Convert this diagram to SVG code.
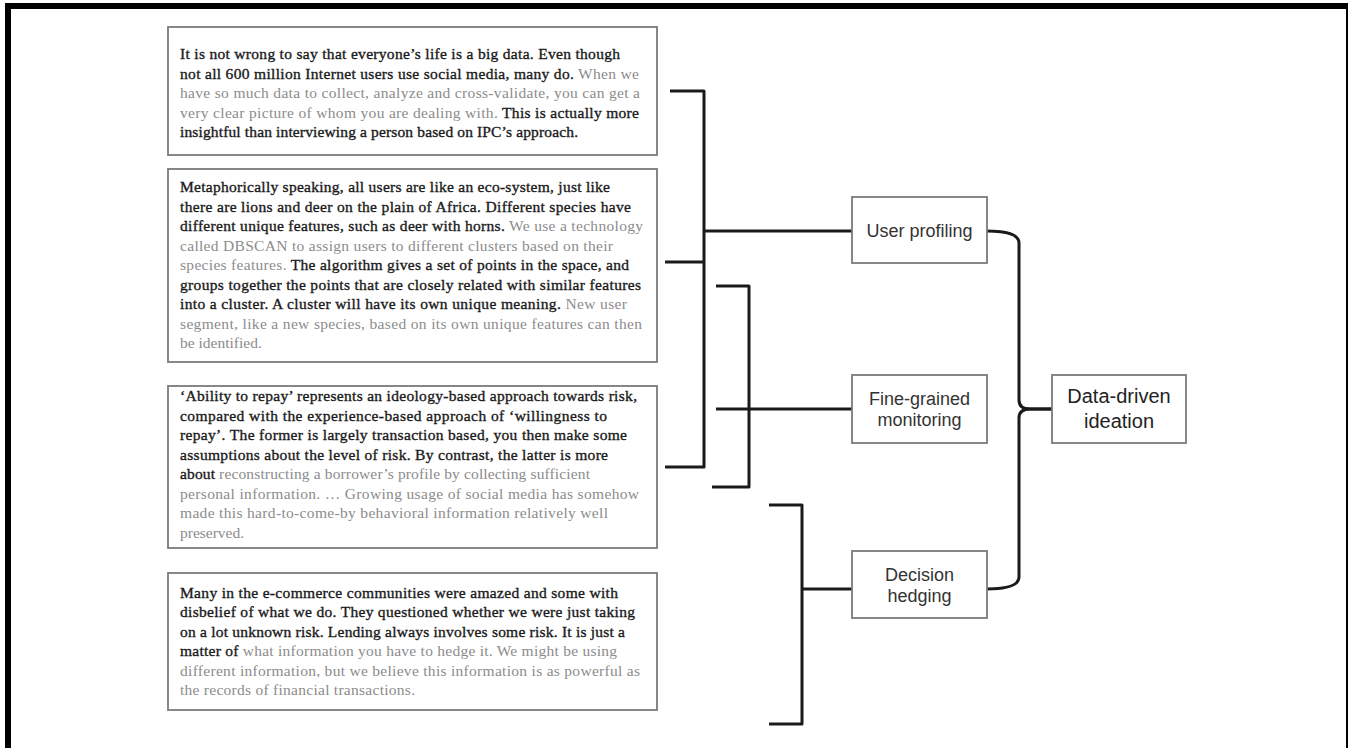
<svg xmlns="http://www.w3.org/2000/svg" width="1348" height="748" viewBox="0 0 1348 748">
<style>
.frame{fill:none;stroke:#000;stroke-width:6}
.qbox{fill:#fff;stroke:#7a7a7a;stroke-width:1.8}
.nbox{fill:#fff;stroke:#7a7a7a;stroke-width:1.8}
.q{font-family:"Liberation Serif","Times New Roman",serif;font-size:15.5px;fill:#1a1a1a;stroke:#1a1a1a;stroke-width:0.35}
.g{fill:#8c8c8c;stroke:none}
.k{fill:#1a1a1a;stroke:#1a1a1a;stroke-width:0.35}
.n{font-family:"Liberation Sans",Arial,sans-serif;font-size:18px;fill:#333;text-anchor:middle}
.big{font-size:20px;fill:#222}
.c{fill:none;stroke:#1a1a1a;stroke-width:3;stroke-linejoin:round}
</style>
<rect x="0" y="0" width="1348" height="748" fill="#fff"/>
<rect class="frame" x="8" y="6" width="1341" height="800"/>

<g id="quote1">
<rect class="qbox" x="168" y="27" width="489" height="128"/>
<text class="q" x="180" y="59" textLength="440" lengthAdjust="spacing">It is not wrong to say that everyone’s life is a big data. Even though</text>
<text class="q" x="180" y="78.5" textLength="459" lengthAdjust="spacing"><tspan class="k">not all 600 million Internet users use social media, many do. </tspan><tspan class="g">When we</tspan></text>
<text class="q g" x="180" y="98" textLength="460" lengthAdjust="spacing">have so much data to collect, analyze and cross-validate, you can get a</text>
<text class="q" x="180" y="117.5" textLength="459" lengthAdjust="spacing"><tspan class="g">very clear picture of whom you are dealing with. </tspan><tspan class="k">This is actually more</tspan></text>
<text class="q" x="180" y="137" textLength="398" lengthAdjust="spacing">insightful than interviewing a person based on IPC’s approach.</text>
</g>

<g id="quote2">
<rect class="qbox" x="168" y="169" width="489" height="193"/>
<text class="q" x="180" y="192" textLength="430" lengthAdjust="spacing">Metaphorically speaking, all users are like an eco-system, just like</text>
<text class="q" x="180" y="211.5" textLength="451" lengthAdjust="spacing">there are lions and deer on the plain of Africa. Different species have</text>
<text class="q" x="180" y="231" textLength="463" lengthAdjust="spacing"><tspan class="k">different unique features, such as deer with horns. </tspan><tspan class="g">We use a technology</tspan></text>
<text class="q g" x="180" y="250.5" textLength="433" lengthAdjust="spacing">called DBSCAN to assign users to different clusters based on their</text>
<text class="q" x="180" y="270" textLength="449" lengthAdjust="spacing"><tspan class="g">species features. </tspan><tspan class="k">The algorithm gives a set of points in the space, and</tspan></text>
<text class="q" x="180" y="289.5" textLength="461" lengthAdjust="spacing">groups together the points that are closely related with similar features</text>
<text class="q" x="180" y="309" textLength="447" lengthAdjust="spacing"><tspan class="k">into a cluster. A cluster will have its own unique meaning. </tspan><tspan class="g">New user</tspan></text>
<text class="q g" x="180" y="328.5" textLength="462" lengthAdjust="spacing">segment, like a new species, based on its own unique features can then</text>
<text class="q g" x="180" y="348">be identified.</text>
</g>

<g id="quote3">
<rect class="qbox" x="168" y="386" width="489" height="162"/>
<text class="q" x="180" y="401" textLength="457" lengthAdjust="spacing">‘Ability to repay’ represents an ideology-based approach towards risk,</text>
<text class="q" x="180" y="420.5" textLength="427" lengthAdjust="spacing">compared with the experience-based approach of ‘willingness to</text>
<text class="q" x="180" y="440" textLength="447" lengthAdjust="spacing">repay’. The former is largely transaction based, you then make some</text>
<text class="q" x="180" y="459.5" textLength="428" lengthAdjust="spacing">assumptions about the level of risk. By contrast, the latter is more</text>
<text class="q" x="180" y="479" textLength="410" lengthAdjust="spacing"><tspan class="k">about </tspan><tspan class="g">reconstructing a borrower’s profile by collecting sufficient</tspan></text>
<text class="q g" x="180" y="498.5" textLength="459" lengthAdjust="spacing">personal information. … Growing usage of social media has somehow</text>
<text class="q g" x="180" y="518" textLength="428" lengthAdjust="spacing">made this hard-to-come-by behavioral information relatively well</text>
<text class="q g" x="180" y="537.5">preserved.</text>
</g>

<g id="quote4">
<rect class="qbox" x="168" y="573" width="489" height="137"/>
<text class="q" x="180" y="597.5" textLength="438" lengthAdjust="spacing">Many in the e-commerce communities were amazed and some with</text>
<text class="q" x="180" y="617" textLength="455" lengthAdjust="spacing">disbelief of what we do. They questioned whether we were just taking</text>
<text class="q" x="180" y="636.5" textLength="445" lengthAdjust="spacing">on a lot unknown risk. Lending always involves some risk. It is just a</text>
<text class="q" x="180" y="656" textLength="437" lengthAdjust="spacing"><tspan class="k">matter of </tspan><tspan class="g">what information you have to hedge it. We might be using</tspan></text>
<text class="q g" x="180" y="675.5" textLength="460" lengthAdjust="spacing">different information, but we believe this information is as powerful as</text>
<text class="q g" x="180" y="695" textLength="235" lengthAdjust="spacing">the records of financial transactions.</text>
</g>

<g id="connectors">
<path class="c" d="M670,91 H704 V467 H665"/>
<path class="c" d="M665,262 H704"/>
<path class="c" d="M704,231 H852"/>
<path class="c" d="M716,286 H749 V487 H712"/>
<path class="c" d="M716,409 H852"/>
<path class="c" d="M769,505 H802 V724 H769"/>
<path class="c" d="M802,589 H852"/>
<path class="c" d="M987,231 Q1019,231 1019,243 V400 Q1019,409 1030,409 H1052"/>
<path class="c" d="M1052,409 H1030 Q1019,409 1019,418 V577 Q1019,589 987,589"/>
</g>

<g id="user-profiling">
<rect class="nbox" x="852" y="197" width="135" height="66"/>
<text class="n" x="919.5" y="237">User profiling</text>
</g>

<g id="fine-grained-monitoring">
<rect class="nbox" x="852" y="375" width="135" height="68"/>
<text class="n" x="919.5" y="405">Fine-grained</text>
<text class="n" x="919.5" y="426">monitoring</text>
</g>

<g id="decision-hedging">
<rect class="nbox" x="852" y="551" width="135" height="67"/>
<text class="n" x="919.5" y="581">Decision</text>
<text class="n" x="919.5" y="602">hedging</text>
</g>

<g id="data-driven-ideation">
<rect class="nbox" x="1052" y="375" width="134" height="68"/>
<text class="n big" x="1119" y="403">Data-driven</text>
<text class="n big" x="1119" y="428">ideation</text>
</g>
</svg>
